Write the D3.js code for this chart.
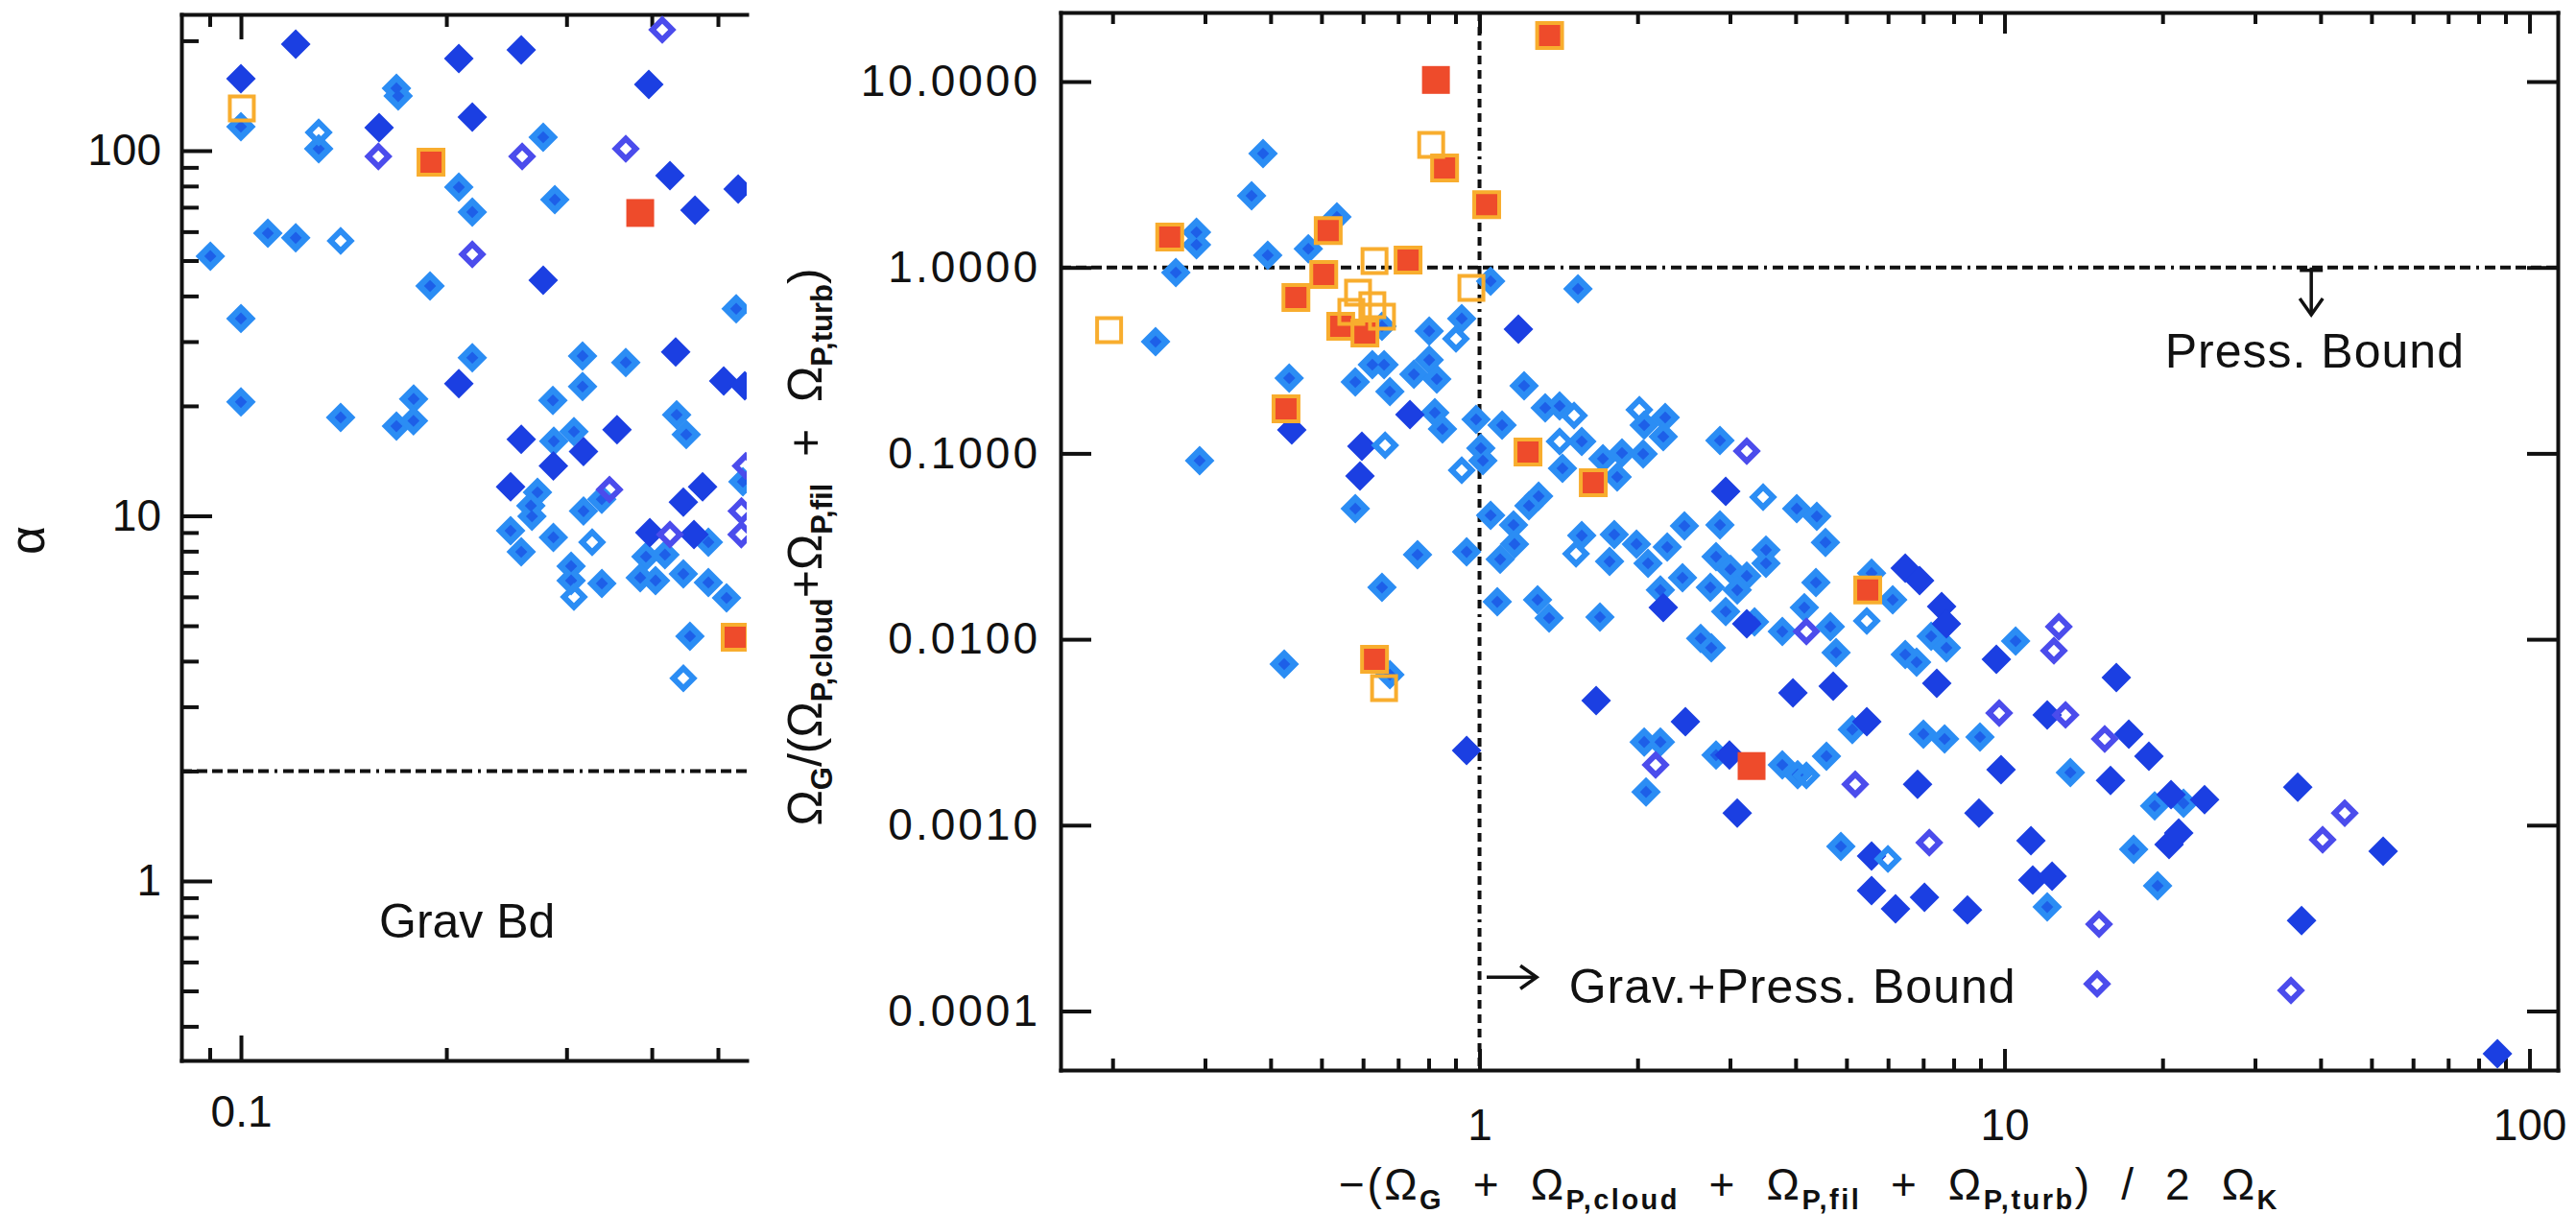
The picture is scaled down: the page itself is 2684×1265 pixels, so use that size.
<!DOCTYPE html>
<html>
<head>
<meta charset="utf-8">
<script src="https://cdn.jsdelivr.net/npm/d3@7"></script>
<style>
  html, body { margin: 0; padding: 0; background: #fff; }
  svg { display: block; }
  text { font-family: "Liberation Sans", Arial, Helvetica, sans-serif; fill: #111; }
</style>
</head>
<body>
<svg id="fig" width="2684" height="1265"></svg>
<script>
// ---------------- Left panel: virial parameter alpha ----------------
const leftDarkFilled = [
  [0.1203,195.7],[0.100,157.4],[0.2086,178.8],[0.2575,188.8],[0.396,151.8],[0.2183,123.6],
  [0.1594,115.6],[0.4253,85.4],[0.5354,78.5],[0.4628,68.7],[0.2773,44.2],[0.4336,28.1],
  [0.2086,23.0],[0.5099,23.4],[0.5474,22.7],[0.2575,16.2],[0.3177,15.0],[0.287,13.7],
  [0.3557,17.2],[0.2484,12.0],[0.445,10.9],[0.4748,12.0],[0.3974,8.99],[0.4612,8.89]
];
const leftLightFilled = [
  [0.169,148.2],[0.170,141.1],[0.100,116.3],[0.130,101.2],[0.2773,108.8],[0.2086,79.4],
  [0.2183,67.9],[0.2884,73.4],[0.1095,59.4],[0.1203,57.7],[0.0902,51.4],[0.1893,42.6],
  [0.100,34.7],[0.5318,36.9],[0.2183,27.1],[0.3167,27.4],[0.3664,26.3],[0.3167,22.6],
  [0.100,20.5],[0.140,18.6],[0.1791,20.9],[0.169,17.6],[0.179,18.2],[0.2865,20.7],
  [0.2874,16.0],[0.3076,17.0],[0.435,18.9],[0.4493,16.7],[0.272,11.6],[0.266,10.66],
  [0.267,9.97],[0.3177,10.3],[0.3379,11.1],[0.2484,9.1],[0.2575,7.97],[0.287,8.73],
  [0.4842,8.47],[0.3047,7.28],[0.3047,6.65],[0.338,6.53],[0.3922,7.73],[0.4182,7.83],
  [0.3847,6.77],[0.4051,6.65],[0.445,6.93],[0.4842,6.57],[0.5148,5.96],[0.455,4.68],
  [0.544,12.4]
];
const leftOpenPurple = [
  [0.4144,214.4],[0.159,96.4],[0.2583,96.4],[0.3664,101.2],[0.2183,52.0],[0.549,13.7],
  [0.3468,11.8],[0.5413,10.3],[0.4253,8.89],[0.541,8.89]
];
const leftOpenLight = [[0.130,112.2],[0.140,56.6],[0.3271,8.47],[0.3076,6.0],[0.445,3.59]];
const leftRedOutlined = [[0.1899,93.0],[0.530,4.65]];
const leftOpenOrange = [[0.1003,130.5]];
const leftRedPlain = [[0.3847,67.5]];
const alphaLimit = 2;

// ---------------- Right panel: boundedness diagnostics ----------------
const rightDarkFilled = [
  [1.186,0.466],[0.439,0.1337],[0.737,0.1616],[0.597,0.1092],[0.592,0.0755],[2.944,0.0624],
  [2.239,0.0148],[3.229,0.0121],[6.47,0.0241],[6.89,0.0207],[7.59,0.0150],[7.75,0.0121],
  [9.65,0.0078],[1.668,0.00468],[3.954,0.00514],[4.718,0.00559],[7.43,0.00579],[2.467,0.0036],
  [2.993,0.00238],[3.097,0.00116],[5.466,0.0036],[6.83,0.00166],[9.85,0.00199],[8.94,0.00116],
  [5.582,0.000682],[5.582,0.000445],[6.20,0.000355],[7.04,0.000409],[8.50,0.000350],
  [16.33,0.00622],[12.06,0.00392],[17.25,0.00309],[18.84,0.00235],[15.92,0.00174],
  [20.76,0.00146],[24.05,0.00137],[11.23,0.000825],[20.58,0.000787],[21.47,0.000907],
  [11.32,0.000507],[12.32,0.000531],[36.19,0.0016],[52.63,0.000724],[36.8,0.000307],
  [86.88,0.0000589],[0.945,0.00252]
];
const rightLightFilled = [
  [0.289,1.547],[0.289,1.326],[0.387,4.10],[0.368,2.43],[0.535,1.87],[0.472,1.26],
  [0.395,1.163],[0.264,0.939],[1.05,0.844],[1.54,0.767],[0.652,0.483],[0.2415,0.399],
  [0.802,0.455],[0.925,0.531],[0.434,0.254],[0.293,0.0914],[0.580,0.242],[0.625,0.300],
  [0.658,0.300],[0.675,0.215],[0.750,0.266],[0.802,0.318],[0.829,0.251],[1.216,0.231],
  [1.334,0.1757],[0.822,0.1655],[0.850,0.1353],[0.985,0.1524],[1.104,0.1418],[0.580,0.0504],
  [1.006,0.1066],[1.015,0.0914],[1.05,0.0464],[1.161,0.0412],[1.242,0.0523],[1.296,0.0588],
  [1.421,0.180],[2.059,0.1418],[2.258,0.156],[2.239,0.123],[1.566,0.1159],[1.718,0.0936],
  [1.868,0.1005],[2.050,0.0993],[1.439,0.0831],[1.829,0.0746],[2.871,0.1173],[4.02,0.0504],
  [4.39,0.0458],[4.56,0.0332],[1.566,0.0361],[1.806,0.0366],[1.769,0.0262],[1.991,0.0325],
  [2.094,0.0256],[2.278,0.0313],[2.457,0.0407],[2.871,0.0412],[2.822,0.0278],[3.006,0.0238],
  [3.229,0.0219],[3.513,0.0302],[3.513,0.0256],[2.752,0.0190],[2.436,0.0214],[2.211,0.0184],
  [3.097,0.0184],[2.944,0.0141],[3.341,0.0124],[4.157,0.0148],[4.373,0.0202],[3.774,0.0110],
  [4.658,0.0117],[4.777,0.00848],[2.638,0.0101],[2.764,0.0090],[1.696,0.01316],[1.357,0.0130],
  [5.582,0.0227],[6.124,0.0163],[7.25,0.01038],[6.47,0.00828],[6.80,0.00753],[7.75,0.0090],
  [10.5,0.00978],[2.059,0.0028],[2.211,0.0028],[2.076,0.00151],[2.822,0.00238],[3.774,0.00211],
  [4.036,0.00187],[4.58,0.00235],[5.13,0.00327],[7.007,0.00309],[7.69,0.00291],[8.98,0.00298],
  [4.879,0.000768],[13.35,0.00192],[19.32,0.00127],[21.93,0.00131],[17.62,0.000741],
  [12.06,0.000363],[19.57,0.000472],[0.762,0.0285],[0.945,0.0295],[1.095,0.0269],
  [1.166,0.0325],[0.652,0.0190],[1.081,0.0159],[1.290,0.0163],[0.4246,0.00735],[0.675,0.00645]
];
const rightOpenPurple = [
  [3.229,0.1029],[4.194,0.0110],[9.77,0.00401],[2.165,0.00211],[5.196,0.00166],[7.19,0.000805],
  [12.69,0.0117],[12.42,0.00868],[13.07,0.00392],[15.52,0.00291],[15.14,0.000293],
  [15.01,0.000140],[44.47,0.00116],[40.36,0.000835],[35.13,0.000129]
];
const rightOpenLight = [
  [0.902,0.413],[0.661,0.1105],[0.925,0.0811],[1.514,0.1597],[2.016,0.1716],[1.421,0.1159],
  [3.469,0.0581],[1.527,0.0288],[5.466,0.01255],[4.194,0.00185],[5.997,0.000658]
];
const rightRedOutlined = [
  [1.36,17.7],[0.858,3.43],[1.032,2.18],[0.257,1.458],[0.515,1.58],[0.731,1.096],[0.505,0.917],
  [0.447,0.689],[0.544,0.483],[0.605,0.444],[0.428,0.1736],[1.237,0.1017],[1.647,0.0695],
  [5.489,0.0184],[0.631,0.0078]
];
const rightOpenOrange = [
  [0.809,4.56],[0.631,1.083],[0.965,0.776],[0.587,0.732],[0.625,0.627],[0.570,0.577],
  [0.652,0.543],[0.197,0.460],[0.658,0.00546]
];
const rightRedPlain = [[0.826,10.2],[3.298,0.00208]];
const ratioLimit = 1;
const energyLimit = 1;

// ---------------- tick values ----------------
const leftYMajor = [1, 10, 100];
const leftYMinor = [0.4,0.5,0.6,0.7,0.8,0.9,2,3,4,5,6,7,8,9,20,30,40,50,60,70,80,90,200];
const leftXMajor = [0.1];
const leftXMinor = [0.09,0.2,0.3,0.4,0.5];
const rightYMajor = [0.0001, 0.001, 0.01, 0.1, 1, 10];
const rightXMajor = [1, 10, 100];
const rightXMinor = [0.2,0.3,0.4,0.5,0.6,0.7,0.8,0.9,2,3,4,5,6,7,8,9,20,30,40,50,60,70,80,90];

// ---------------- layout ----------------
const svg = d3.select("#fig");
const L = {x0: 189, x1: 778, y0: 15, y1: 1105};
const R = {x0: 1105, x1: 2665, y0: 13, y1: 1115};

const xL = d3.scaleLog().domain([0.0818, 0.551]).range([L.x0, L.x1]);
const yL = d3.scaleLog().domain([0.3225, 236.1]).range([L.y1, L.y0]);
const xR = d3.scaleLog().domain([0.1592, 113.2]).range([R.x0, R.x1]);
const yR = d3.scaleLog().domain([4.815e-5, 23.53]).range([R.y1, R.y0]);

const C = {
  dark: "#1b3fe2", light: "#2b8df4", core: "#1d5fe8", purple: "#4b4cec",
  red: "#ee4b2b", orange: "#f8ad2e", ink: "#111"
};
const TICK_FONT = 46;

// ---------------- axes ----------------
function styleAxis(g, withLabels, spacing) {
  g.select(".domain").attr("stroke", C.ink).attr("stroke-width", 4).attr("stroke-linecap", "square");
  g.selectAll(".tick line").attr("stroke", C.ink).attr("stroke-width", 4);
  g.selectAll(".tick text").attr("font-size", TICK_FONT)
    .attr("font-family", '"Liberation Sans", Arial, sans-serif').attr("fill", C.ink)
    .style("letter-spacing", spacing ? spacing + "px" : null);
  if (!withLabels) g.selectAll(".tick text").remove();
}
function addAxis(axis, tx, ty, withLabels, keepDomain, spacing) {
  const g = svg.append("g").attr("transform", `translate(${tx},${ty})`).call(axis);
  styleAxis(g, withLabels, spacing);
  if (!keepDomain) g.select(".domain").remove();
  return g;
}

// left panel (right side is cut off)
addAxis(d3.axisLeft(yL).tickValues(leftYMajor).tickFormat(d3.format("d")).tickSize(-32).tickSizeOuter(0).tickPadding(21), L.x0, 0, true, true);
addAxis(d3.axisLeft(yL).tickValues(leftYMinor).tickFormat("").tickSize(-18).tickSizeOuter(0), L.x0, 0, false, false);
addAxis(d3.axisBottom(xL).tickValues(leftXMajor).tickFormat(d3.format(".1f")).tickSize(-26).tickSizeOuter(0).tickPadding(36), 0, L.y1, true, true);
addAxis(d3.axisBottom(xL).tickValues(leftXMinor).tickFormat("").tickSize(-13).tickSizeOuter(0), 0, L.y1, false, false);
addAxis(d3.axisTop(xL).tickValues(leftXMajor).tickFormat("").tickSize(-26).tickSizeOuter(0), 0, L.y0, false, true);
addAxis(d3.axisTop(xL).tickValues(leftXMinor).tickFormat("").tickSize(-13).tickSizeOuter(0), 0, L.y0, false, false);

// right panel
addAxis(d3.axisLeft(yR).tickValues(rightYMajor).tickFormat(d3.format(".4f")).tickSize(-32).tickSizeOuter(0).tickPadding(21), R.x0, 0, true, true, 3);
addAxis(d3.axisRight(yR).tickValues(rightYMajor).tickFormat("").tickSize(-32).tickSizeOuter(0), R.x1, 0, false, true);
addAxis(d3.axisBottom(xR).tickValues(rightXMajor).tickFormat(d3.format("d")).tickSize(-22).tickSizeOuter(0).tickPadding(40), 0, R.y1, true, true);
addAxis(d3.axisBottom(xR).tickValues(rightXMinor).tickFormat("").tickSize(-12).tickSizeOuter(0), 0, R.y1, false, false);
addAxis(d3.axisTop(xR).tickValues(rightXMajor).tickFormat("").tickSize(-22).tickSizeOuter(0), 0, R.y0, false, true);
addAxis(d3.axisTop(xR).tickValues(rightXMinor).tickFormat("").tickSize(-12).tickSizeOuter(0), 0, R.y0, false, false);

// ---------------- reference lines ----------------
const dashH = "11,5,11,5,11,5,11,5,11,5,11,6,3,6";
const dashV = "9,6,9,6,9,6,9,6,9,6,9,6,9,6,9,6,9,6,9,6,3,6";
svg.append("line").attr("x1", L.x0).attr("x2", L.x1).attr("y1", yL(alphaLimit)).attr("y2", yL(alphaLimit))
  .attr("stroke", C.ink).attr("stroke-width", 4).attr("stroke-dasharray", dashH);
svg.append("line").attr("x1", R.x0).attr("x2", R.x1).attr("y1", yR(ratioLimit)).attr("y2", yR(ratioLimit))
  .attr("stroke", C.ink).attr("stroke-width", 4).attr("stroke-dasharray", dashH);
svg.append("line").attr("x1", xR(energyLimit)).attr("x2", xR(energyLimit)).attr("y1", R.y0).attr("y2", R.y1)
  .attr("stroke", C.ink).attr("stroke-width", 4).attr("stroke-dasharray", dashV);

// ---------------- markers ----------------
svg.append("clipPath").attr("id", "leftClip").append("rect")
  .attr("x", 0).attr("y", 0).attr("width", L.x1).attr("height", 1265);

const diamond = (area) => d3.symbol(d3.symbolSquare, area)();
const square = (area) => d3.symbol(d3.symbolSquare, area)();

function drawSet(g, data, xs, ys, opt) {
  g.append("g").selectAll("path").data(data).join("path")
    .attr("transform", d => `translate(${xs(d[0])},${ys(d[1])})${opt.rot ? " rotate(45)" : ""}`)
    .attr("d", opt.shape)
    .attr("fill", opt.fill || "none")
    .attr("stroke", opt.stroke || "none")
    .attr("stroke-width", opt.sw || 0)
    .attr("stroke-linejoin", "miter");
}
function drawPanel(g, xs, ys, s) {
  drawSet(g, s.light, xs, ys, {shape: diamond(480), rot: true, fill: C.light});
  drawSet(g, s.light, xs, ys, {shape: diamond(80), rot: true, fill: C.core});
  drawSet(g, s.dark, xs, ys, {shape: diamond(480), rot: true, fill: C.dark});
  drawSet(g, s.openPurple, xs, ys, {shape: diamond(220), rot: true, stroke: C.purple, sw: 6});
  drawSet(g, s.openLight, xs, ys, {shape: diamond(220), rot: true, stroke: C.light, sw: 6});
  drawSet(g, s.redOutlined, xs, ys, {shape: square(676), fill: C.red, stroke: C.orange, sw: 4});
  drawSet(g, s.openOrange, xs, ys, {shape: square(625), stroke: C.orange, sw: 4});
  drawSet(g, s.redPlain, xs, ys, {shape: square(841), fill: C.red});
}
drawPanel(svg.append("g").attr("clip-path", "url(#leftClip)"), xL, yL, {
  light: leftLightFilled, dark: leftDarkFilled, openPurple: leftOpenPurple, openLight: leftOpenLight,
  redOutlined: leftRedOutlined, openOrange: leftOpenOrange, redPlain: leftRedPlain
});
drawPanel(svg.append("g"), xR, yR, {
  light: rightLightFilled, dark: rightDarkFilled, openPurple: rightOpenPurple, openLight: rightOpenLight,
  redOutlined: rightRedOutlined, openOrange: rightOpenOrange, redPlain: rightRedPlain
});

// ---------------- annotations ----------------
const NOTE_FONT = 50;
svg.append("text").attr("x", xL(0.1594)).attr("y", yL(0.70)).attr("font-size", NOTE_FONT).text("Grav Bd");

// pressure-bound arrow (pointing down from the ratio = 1 line)
const pax = xR(38.4);
svg.append("line").attr("x1", pax).attr("x2", pax).attr("y1", yR(1)).attr("y2", yR(0.556))
  .attr("stroke", C.ink).attr("stroke-width", 3.5);
svg.append("line").attr("x1", pax - 12).attr("x2", pax + 12).attr("y1", yR(1) + 3).attr("y2", yR(1) + 3)
  .attr("stroke", C.ink).attr("stroke-width", 3.5);
svg.append("path")
  .attr("d", `M${pax - 12},${yR(0.556) - 17}L${pax},${yR(0.556)}L${pax + 12},${yR(0.556) - 17}`)
  .attr("fill", "none").attr("stroke", C.ink).attr("stroke-width", 3.5);
svg.append("text").attr("x", xR(39.0)).attr("y", yR(0.289)).attr("text-anchor", "middle")
  .attr("font-size", NOTE_FONT).style("letter-spacing", "1px").text("Press. Bound");

// gravitationally + pressure bound arrow (pointing right from x = 1)
const gay = yR(0.000152), gx0 = xR(1.032), gx1 = xR(1.285);
svg.append("line").attr("x1", gx0).attr("x2", gx1).attr("y1", gay).attr("y2", gay)
  .attr("stroke", C.ink).attr("stroke-width", 3.5);
svg.append("path").attr("d", `M${gx1 - 17},${gay - 12}L${gx1},${gay}L${gx1 - 17},${gay + 12}`)
  .attr("fill", "none").attr("stroke", C.ink).attr("stroke-width", 3.5);
svg.append("text").attr("x", xR(1.48)).attr("y", yR(0.0001106)).attr("font-size", NOTE_FONT)
  .style("letter-spacing", "1px").text("Grav.+Press. Bound");

// ---------------- axis titles ----------------
function mathText(sel, parts, size, subSize, shift) {
  parts.forEach(p => {
    const t = sel.append("tspan").text(p.t);
    if (p.sub) {
      t.attr("font-size", subSize).attr("font-weight", "bold").attr("dy", shift);
    } else {
      t.attr("font-size", size);
      if (p.after) t.attr("dy", -shift);
    }
  });
}
svg.append("text").attr("transform", "translate(46,563) rotate(-90)").attr("text-anchor", "middle")
  .attr("font-size", 52).text("α");

const yTitle = svg.append("text").attr("transform", "translate(856,570) rotate(-90)")
  .attr("text-anchor", "middle").attr("xml:space", "preserve");
mathText(yTitle, [
  {t: "Ω"}, {t: "G", sub: true}, {t: "/(Ω", after: true}, {t: "P,cloud", sub: true},
  {t: "+Ω", after: true}, {t: "P,fil", sub: true}, {t: "  +  Ω", after: true},
  {t: "P,turb", sub: true}, {t: ")", after: true}
], 50, 31, 11);

const xTitle = svg.append("text").attr("x", (R.x0 + R.x1) / 2).attr("y", 1250)
  .attr("text-anchor", "middle").attr("xml:space", "preserve").style("letter-spacing", "2.5px");
mathText(xTitle, [
  {t: "−(Ω"}, {t: "G", sub: true}, {t: "  +  Ω", after: true}, {t: "P,cloud", sub: true},
  {t: "  +  Ω", after: true}, {t: "P,fil", sub: true}, {t: "  +  Ω", after: true},
  {t: "P,turb", sub: true}, {t: ")  /  2  Ω", after: true}, {t: "K", sub: true}
], 46, 29, 10);
</script>
</body>
</html>
